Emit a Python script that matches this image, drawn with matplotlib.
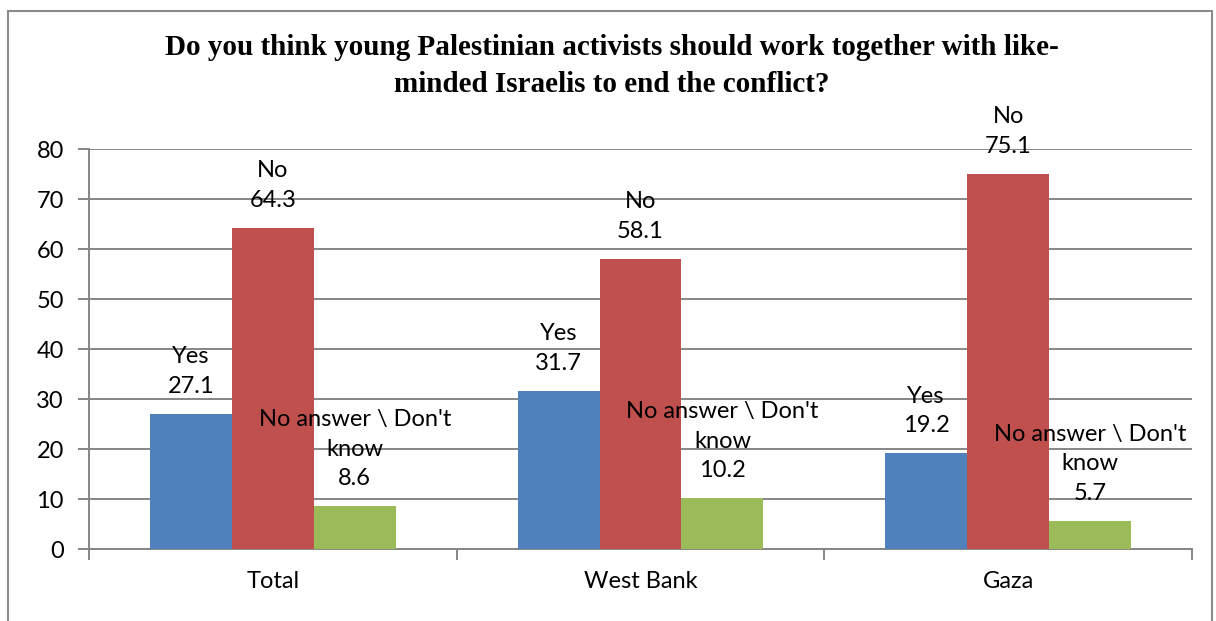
import numpy as np
import matplotlib.pyplot as plt
from matplotlib.patches import Rectangle

categories = ["Total", "West Bank", "Gaza"]
series_names = ["Yes", "No", "No answer \\ Don't\nknow"]
yes_values = [27.1, 31.7, 19.2]
no_values = [64.3, 58.1, 75.1]
dk_values = [8.6, 10.2, 5.7]
colors = ["#4F81BD", "#C0504D", "#9BBB59"]
title = ("Do you think young Palestinian activists should work together with like-\n"
         "minded Israelis to end the conflict?")

plt.rcParams["font.family"] = ["Lato", "DejaVu Sans"]

fig = plt.figure(figsize=(12.16, 6.21), dpi=100)
W, H = 1216, 621
# axes in pixel coords: left 89, right 1192, top 149, bottom 549
ax = fig.add_axes([89 / W, 1 - 549 / H, (1192 - 89) / W, (549 - 149) / H])

# chart border
fig.patches.append(Rectangle((8 / W, -0.01), (1212 - 8) / W, 1 - 11 / H + 0.01,
                             transform=fig.transFigure, fill=False,
                             edgecolor="#8c8c8c", linewidth=1.5))

x = np.arange(len(categories))
width = 0.223
grid_color = "#868686"

for i, (vals, name) in enumerate(zip([yes_values, no_values, dk_values], series_names)):
    pos = x + (i - 1) * width
    ax.bar(pos, vals, width=width, color=colors[i], zorder=3)
    for px, v in zip(pos, vals):
        ax.annotate(f"{name}\n{v}", (px, v), xytext=(0, 12), textcoords="offset points",
                    ha="center", va="bottom", fontsize=17, linespacing=1.5,
                    color="black", zorder=5, annotation_clip=False)

ax.set_xlim(-0.5, 2.5)
ax.set_ylim(0, 80)
ax.set_yticks(range(0, 81, 10))
ax.yaxis.grid(True, color=grid_color, linewidth=1.4, zorder=0)
ax.set_axisbelow(True)

ax.set_xticks(x)
ax.set_xticklabels(categories, fontsize=17)
ax.set_xticks([-0.5, 0.5, 1.5, 2.5], minor=True)
ax.tick_params(axis="x", which="major", length=0, pad=16)
ax.tick_params(axis="x", which="minor", length=8, width=1.4, color=grid_color)
ax.tick_params(axis="y", length=8, width=1.4, color=grid_color, labelsize=17, pad=10)

for side in ["top", "right"]:
    ax.spines[side].set_visible(False)
for side in ["left", "bottom"]:
    ax.spines[side].set_color(grid_color)
    ax.spines[side].set_linewidth(1.4)

fig.text(612 / W, 1 - 66 / H, title, ha="center", va="center", fontsize=21,
         fontweight="bold", family="Liberation Serif", linespacing=1.45)

fig.savefig("out.png", dpi=100)
